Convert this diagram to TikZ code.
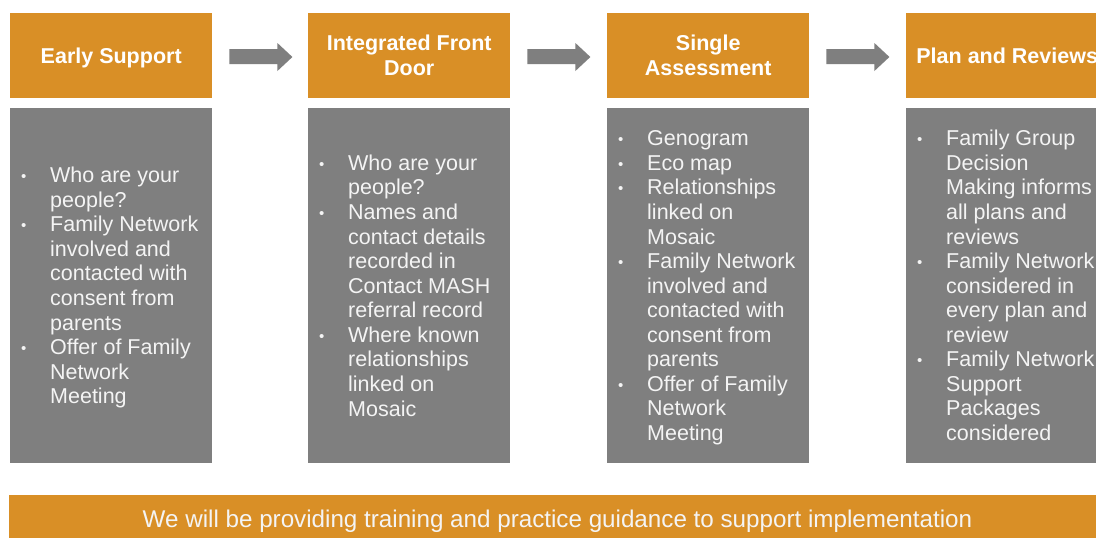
\documentclass[tikz,border=0pt]{standalone}
\usepackage{fontspec}
\setmainfont{Liberation Sans}
\usetikzlibrary{calc}
\definecolor{hdr}{RGB}{217,143,38}
\definecolor{bodygray}{RGB}{127,127,127}
\definecolor{txt}{RGB}{244,244,244}
\newcommand{\bl}{\llap{\makebox[29pt][l]{\fontsize{15}{15}\selectfont\raisebox{1pt}{•}}}}
\newcommand{\topstrut}{\rule{0pt}{17pt}}
\begin{document}
\begin{tikzpicture}[x=1pt,y=-1pt,
  hdrbox/.style={fill=hdr, draw=none, minimum width=202pt, minimum height=85pt, inner sep=0pt, anchor=north west, text=white, font=\bfseries\fontsize{21.5}{25}\selectfont, align=center},
  bodybox/.style={fill=bodygray, draw=none, minimum width=202pt, minimum height=355pt, inner sep=0pt, anchor=north west},
  bodytext/.style={text=txt, font=\fontsize{21.5}{24.56}\selectfont, align=left, anchor=north west, inner sep=0pt},
  flowarrow/.style={fill=bodygray, draw=none},
  barbox/.style={fill=hdr, draw=none, minimum width=1100pt, minimum height=50pt, inner sep=0pt, anchor=north west},
  bartext/.style={text=txt, font=\fontsize{24.2}{26}\selectfont, inner sep=0pt}]
\useasboundingbox (0,0) rectangle (1096,538);
\clip (0,0) rectangle (1096,538);
\fill[white] (0,0) rectangle (1096,538);

% headers
\node[hdrbox, text depth=0pt] (h1) at (10,13) {Early Support};
\node[hdrbox] (h2) at (308,13) {Integrated Front\\Door};
\node[hdrbox] (h3) at (607,13) {Single\\Assessment};
\node[hdrbox, text depth=0pt] (h4) at (906,13) {Plan and Reviews};

% bodies
\node[bodybox] (b1) at (10,108) {};
\node[bodybox] (b2) at (308,108) {};
\node[bodybox] (b3) at (607,108) {};
\node[bodybox] (b4) at (906,108) {};

\node[bodytext] (t1) at ($(b1.north west)+(40,57.5)$) {\topstrut\bl Who are your\\people?\\\bl Family Network\\involved and\\contacted with\\consent from\\parents\\\bl Offer of Family\\Network\\Meeting};
\node[bodytext] (t2) at ($(b2.north west)+(40,45.2)$) {\topstrut\bl Who are your\\people?\\\bl Names and\\contact details\\recorded in\\Contact MASH\\referral record\\\bl Where known\\relationships\\linked on\\Mosaic};
\node[bodytext] (t3) at ($(b3.north west)+(40,20.6)$) {\topstrut\bl Genogram\\\bl Eco map\\\bl Relationships\\linked on\\Mosaic\\\bl Family Network\\involved and\\contacted with\\consent from\\parents\\\bl Offer of Family\\Network\\Meeting};
\node[bodytext] (t4) at ($(b4.north west)+(40,20.6)$) {\topstrut\bl Family Group\\Decision\\Making informs\\all plans and\\reviews\\\bl Family Network\\considered in\\every plan and\\review\\\bl Family Network\\Support\\Packages\\considered};

% arrows between stages
\foreach \a in {h1,h2,h3}{
  \coordinate (s) at ($(\a.north east)+(17,36)$);
  \fill[flowarrow] (s) -- ++(48,0) -- ++(0,-6) -- ++(15,14) -- ++(-15,14) -- ++(0,-7) -- ++(-48,0) -- cycle;
}

% bottom bar
\node[barbox] (bar) at (9,495) {};
\node[bartext] (bartxt) at (557.5,521.5) {We will be providing training and practice guidance to support implementation};
\end{tikzpicture}
\end{document}
